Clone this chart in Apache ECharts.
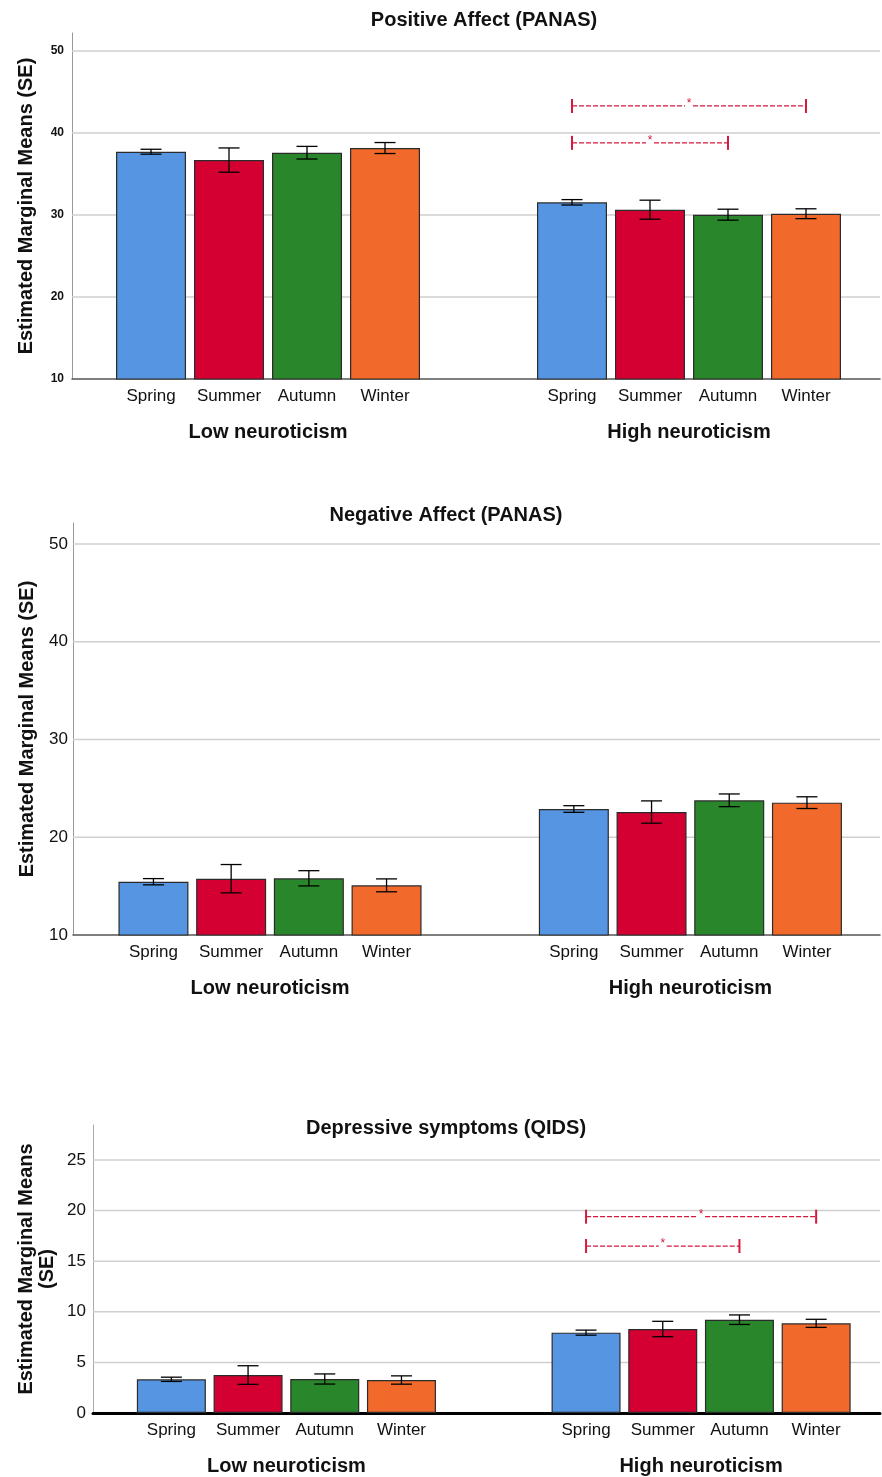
<!DOCTYPE html>
<html><head><meta charset="utf-8">
<script src="https://cdn.jsdelivr.net/npm/echarts@6/dist/echarts.min.js"></script>
<style>html,body{margin:0;padding:0;background:#fff}#c{width:882px;height:1477px}</style>
</head><body><div id="c"></div>
<script>
// ---- data ----
const seasons = ['Spring', 'Summer', 'Autumn', 'Winter'];
const groups = ['Low neuroticism', 'High neuroticism'];
const titles = ['Positive Affect (PANAS)', 'Negative Affect (PANAS)', 'Depressive symptoms (QIDS)'];
const yNameOneLine = 'Estimated Marginal Means (SE)';
const yNameTwoLines = 'Estimated Marginal Means\n(SE)';

const paLowMean = [37.72, 36.70, 37.60, 38.17];
const paLowSE = [0.30, 1.48, 0.77, 0.67];
const paHighMean = [31.55, 30.65, 30.04, 30.16];
const paHighSE = [0.33, 1.16, 0.67, 0.60];

const naLowMean = [15.45, 15.76, 15.80, 15.08];
const naLowSE = [0.32, 1.45, 0.78, 0.66];
const naHighMean = [22.89, 22.58, 23.78, 23.54];
const naHighSE = [0.34, 1.14, 0.65, 0.60];

const qidsLowMean = [3.33, 3.75, 3.36, 3.26];
const qidsLowSE = [0.21, 0.92, 0.50, 0.41];
const qidsHighMean = [7.94, 8.30, 9.22, 8.86];
const qidsHighSE = [0.25, 0.76, 0.47, 0.40];

const paTicks = [10, 20, 30, 40, 50];
const naTicks = [10, 20, 30, 40, 50];
const qidsTicks = [0, 5, 10, 15, 20, 25];

// significance brackets: [group index, from season index, to season index, level]
const paBrackets = [[1, 0, 3, 43.3], [1, 0, 2, 38.8]];
const naBrackets = [];
const qidsBrackets = [[1, 0, 3, 19.4], [1, 0, 2, 16.5]];

// ---- styles / layout ----
const seasonColors = ['#5595E2', '#D50032', '#2A862A', '#F26A2B'];
const FONT = '"Liberation Sans", Arial, sans-serif';
const sigColor = '#D7193F';

const panels = [
  { title: titles[0], lowM: paLowMean, lowS: paLowSE, highM: paHighMean, highS: paHighSE, ticks: paTicks, br: paBrackets,
    yName: yNameOneLine, left: 72, top: 33, height: 346, yMin: 10, yMax: 52.2, interval: 10,
    xMin: -0.4656, xMax: 1.4537, barW: 70, gap: 8, cap: 10.5, titleX: 484, titleY: 20,
    tickFont: 12, tickBold: 'bold', tickMargin: 8, xLineColor: '#555', xLineWidth: 1.5, yLineColor: '#999' },
  { title: titles[1], lowM: naLowMean, lowS: naLowSE, highM: naHighMean, highS: naHighSE, ticks: naTicks, br: naBrackets,
    yName: yNameOneLine, left: 73, top: 523, height: 412, yMin: 10, yMax: 52.15, interval: 10,
    xMin: -0.4686, xMax: 1.451, barW: 70, gap: 7.7, cap: 10.5, titleX: 446, titleY: 515,
    tickFont: 17, tickBold: 'normal', tickMargin: 5, xLineColor: '#555', xLineWidth: 1.5, yLineColor: '#999' },
  { title: titles[2], lowM: qidsLowMean, lowS: qidsLowSE, highM: qidsHighMean, highS: qidsHighSE, ticks: qidsTicks, br: qidsBrackets,
    yName: yNameTwoLines, left: 93, top: 1125, height: 288, yMin: 0, yMax: 28.46, interval: 5,
    xMin: -0.4664, xMax: 1.4314, barW: 69, gap: 7.7, cap: 10.5, titleX: 446, titleY: 1128,
    tickFont: 17, tickBold: 'normal', tickMargin: 7, xLineColor: '#000', xLineWidth: 3, yLineColor: '#aaa' }
];

const grids = [], xAxes = [], yAxes = [], series = [], graphics = [];

panels.forEach(function (p, i) {
  grids.push({ left: p.left, top: p.top, width: 880 - p.left, height: p.height, outerBoundsMode: 'none', containLabel: false });
  xAxes.push({
    type: 'value', gridIndex: i, min: p.xMin, max: p.xMax,
    axisLine: { show: true, onZero: false, lineStyle: { color: p.xLineColor, width: p.xLineWidth } },
    axisTick: { show: false }, splitLine: { show: false },
    axisLabel: { customValues: [0, 1], formatter: function (v) { return groups[Math.round(v)] || ''; },
      margin: 43, fontSize: 20, fontWeight: 'bold', color: '#111', fontFamily: FONT }
  });
  yAxes.push({
    type: 'value', gridIndex: i, min: p.yMin, max: p.yMax, interval: p.interval,
    name: p.yName, nameLocation: 'middle', nameGap: 35, nameRotate: 90, nameMoveOverlap: false,
    nameTextStyle: { fontSize: 20, fontWeight: 'bold', color: '#111', fontFamily: FONT, lineHeight: 21 },
    axisLine: { show: true, onZero: false, lineStyle: { color: p.yLineColor, width: 1 } },
    axisTick: { show: false }, splitLine: { show: false },
    axisLabel: { margin: p.tickMargin, fontSize: p.tickFont, fontWeight: p.tickBold, color: '#111', fontFamily: FONT,
      formatter: function (v) { return p.ticks.indexOf(Math.round(v * 1000) / 1000) >= 0 ? String(v) : ''; } }
  });

  // gridlines
  series.push({
    type: 'custom', xAxisIndex: i, yAxisIndex: i, z: 1, silent: true,
    data: p.ticks.filter(function (t) { return t > p.yMin; }).map(function (t) { return [0, t]; }),
    encode: { x: 0, y: 1 },
    renderItem: function (params, api) {
      const y = api.coord([0, api.value(1)])[1];
      const cs = params.coordSys;
      return { type: 'line', shape: { x1: cs.x, y1: y, x2: cs.x + cs.width, y2: y },
        style: { stroke: '#cfcfcf', lineWidth: 1.5 } };
    }
  });

  // bars
  seasons.forEach(function (s, si) {
    series.push({
      type: 'bar', name: s, xAxisIndex: i, yAxisIndex: i, z: 2,
      barWidth: p.barW, barGap: (p.gap / p.barW * 100) + '%',
      itemStyle: { color: seasonColors[si], borderColor: '#2b2b2b', borderWidth: 1.2 },
      data: [[0, p.lowM[si]], [1, p.highM[si]]]
    });
  });

  // error bars + season labels
  const errData = [];
  seasons.forEach(function (s, si) {
    errData.push([0, si, p.lowM[si], p.lowS[si]]);
    errData.push([1, si, p.highM[si], p.highS[si]]);
  });
  series.push({
    type: 'custom', xAxisIndex: i, yAxisIndex: i, z: 3, silent: true,
    data: errData, encode: { x: 0, y: 2 },
    renderItem: function (params, api) {
      const g = api.value(0), s = api.value(1), m = api.value(2), se = api.value(3);
      const cx = api.coord([g, m])[0] + (s - 1.5) * (p.barW + p.gap);
      const yt = api.coord([g, m + se])[1];
      const yb = api.coord([g, m - se])[1];
      const base = api.coord([g, p.yMin])[1];
      const st = { stroke: '#000', lineWidth: 1.3 };
      return { type: 'group', children: [
        { type: 'line', shape: { x1: cx, y1: yt, x2: cx, y2: yb }, style: st },
        { type: 'line', shape: { x1: cx - p.cap, y1: yt, x2: cx + p.cap, y2: yt }, style: st },
        { type: 'line', shape: { x1: cx - p.cap, y1: yb, x2: cx + p.cap, y2: yb }, style: st },
        { type: 'text', x: cx, y: base + 17, style: { text: seasons[s], textAlign: 'center', textVerticalAlign: 'middle',
          font: '17px ' + FONT, fill: '#111' } }
      ] };
    }
  });

  // significance brackets
  if (p.br.length) {
    series.push({
      type: 'custom', xAxisIndex: i, yAxisIndex: i, z: 3, silent: true,
      data: p.br, encode: { x: 0, y: 3 },
      renderItem: function (params, api) {
        const g = api.value(0), a = api.value(1), b = api.value(2), lv = api.value(3);
        const c = api.coord([g, lv]);
        const step = p.barW + p.gap;
        const x1 = c[0] + (a - 1.5) * step, x2 = c[0] + (b - 1.5) * step, y = c[1];
        const mid = (x1 + x2) / 2;
        const dash = { stroke: sigColor, lineWidth: 1.2, lineDash: [5, 2] };
        const solid = { stroke: sigColor, lineWidth: 2 };
        return { type: 'group', children: [
          { type: 'line', shape: { x1: x1, y1: y, x2: mid - 4, y2: y }, style: dash },
          { type: 'line', shape: { x1: mid + 4, y1: y, x2: x2, y2: y }, style: dash },
          { type: 'line', shape: { x1: x1, y1: y - 7, x2: x1, y2: y + 7 }, style: solid },
          { type: 'line', shape: { x1: x2, y1: y - 7, x2: x2, y2: y + 7 }, style: solid },
          { type: 'text', x: mid, y: y - 2, style: { text: '*', textAlign: 'center', textVerticalAlign: 'middle',
            font: '12px ' + FONT, fill: sigColor } }
        ] };
      }
    });
  }

  graphics.push({ type: 'text', x: p.titleX, y: p.titleY, style: { text: p.title, textAlign: 'center', textVerticalAlign: 'middle',
    font: 'bold 20px ' + FONT, fill: '#111' } });
});

const chart = echarts.init(document.getElementById('c'), null, { renderer: 'canvas' });
chart.setOption({
  animation: false,
  backgroundColor: '#fff',
  grid: grids, xAxis: xAxes, yAxis: yAxes, series: series,
  graphic: graphics
});
</script>
</body></html>
